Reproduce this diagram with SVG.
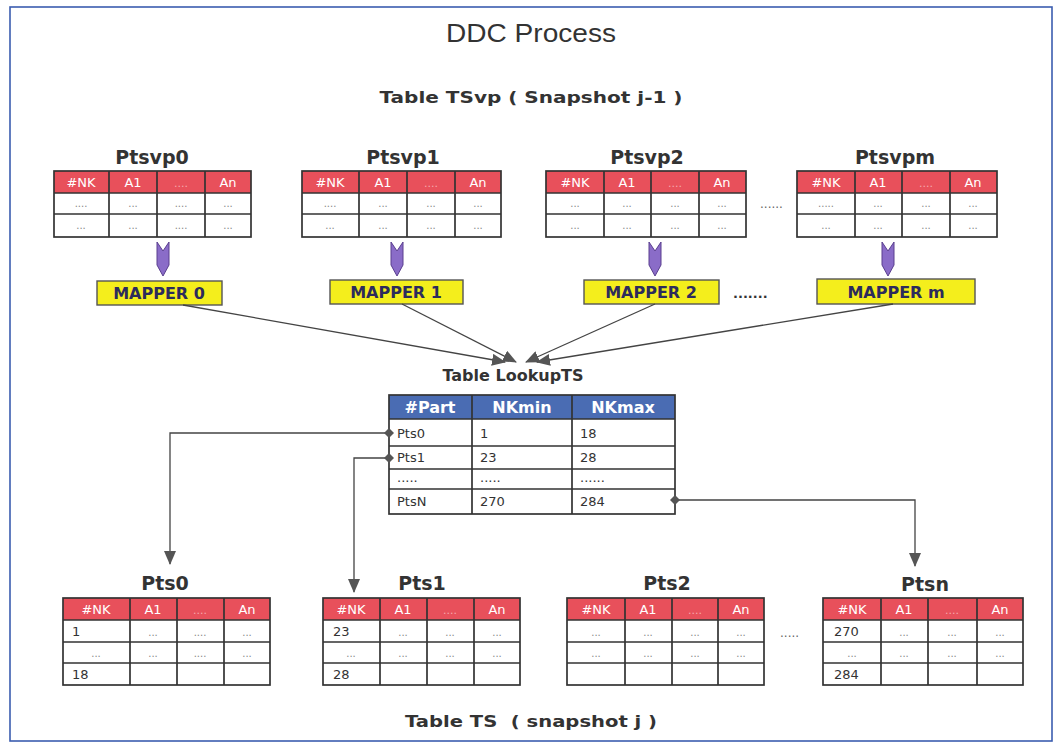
<svg xmlns="http://www.w3.org/2000/svg" xmlns:xlink="http://www.w3.org/1999/xlink" width="1055" height="743" viewBox="0 0 1055 743">
<style>
.frame{fill:#fff;stroke:#3b5db0;stroke-width:1.6}
.hdr{fill:#e8505b}
.lhdr{fill:#4a6cb3}
.grid{fill:none;stroke:#333;stroke-width:1.7}
.ht{font-family:"DejaVu Sans",sans-serif;font-size:13px;fill:#fff;text-anchor:middle}
.hd{font-family:"DejaVu Sans",sans-serif;font-size:11px;fill:#f6a9ae;text-anchor:middle}
.dt{font-family:"DejaVu Sans",sans-serif;font-size:10px;fill:#888;text-anchor:middle}
.num{font-family:"DejaVu Sans",sans-serif;font-size:13px;fill:#333}
.title{font-family:"DejaVu Sans",sans-serif;font-weight:bold;font-size:19px;fill:#333;text-anchor:middle}
.cap{font-family:"DejaVu Sans",sans-serif;font-weight:bold;font-size:16px;fill:#333;text-anchor:middle}
.map{fill:#f4ee1c;stroke:#555;stroke-width:1.4}
.mt{font-family:"DejaVu Sans",sans-serif;font-weight:bold;font-size:16px;fill:#2c2b5c;text-anchor:middle}
.lh{font-family:"DejaVu Sans",sans-serif;font-weight:bold;font-size:16px;fill:#fff;text-anchor:middle}
.conn{fill:none;stroke:#444;stroke-width:1.3}
.pa{fill:#8a6cc8;stroke:#5a3f8f;stroke-width:1}
.dots{font-family:"DejaVu Sans",sans-serif;font-size:12px;fill:#666}
</style>
<defs>
<marker id="arr" markerUnits="userSpaceOnUse" markerWidth="14" markerHeight="12" viewBox="0 0 14 12" refX="13" refY="6" orient="auto">
<path d="M0,0 L14,6 L0,12 Z" fill="#555"/>
</marker>
<marker id="dia" markerUnits="userSpaceOnUse" markerWidth="10" markerHeight="10" viewBox="0 0 10 10" refX="5" refY="5" orient="auto">
<path d="M0,5 L5,0 L10,5 L5,10 Z" fill="#555"/>
</marker>
<path id="parrow" class="pa" d="M-6,0 L0,9 L6,0 L6,23 L0,34 L-6,23 Z"/>
</defs>

<rect class="frame" x="10" y="7" width="1042" height="734"/>
<text x="531" y="42" font-family="Liberation Sans, sans-serif" font-size="26" fill="#333" text-anchor="middle" textLength="170" lengthAdjust="spacingAndGlyphs">DDC Process</text>
<text x="531" y="103" class="cap" textLength="303" lengthAdjust="spacingAndGlyphs">Table TSvp ( Snapshot j-1 )</text>

<!-- Top tables -->
<g id="Ptsvp0">
<text class="title" x="152" y="164">Ptsvp0</text>
<rect class="hdr" x="54" y="171" width="197" height="22"/>
<rect class="grid" x="54" y="171" width="197" height="66"/>
<path class="grid" d="M54,193H251M54,214H251M109,171V237M157,171V237M205,171V237"/>
<text class="ht" x="81" y="187">#NK</text><text class="ht" x="133" y="187">A1</text><text class="hd" x="181" y="187">....</text><text class="ht" x="228" y="187">An</text>
<text class="dt" x="81" y="207">....</text><text class="dt" x="133" y="207">...</text><text class="dt" x="181" y="207">....</text><text class="dt" x="228" y="207">...</text>
<text class="dt" x="81" y="229">...</text><text class="dt" x="133" y="229">...</text><text class="dt" x="181" y="229">....</text><text class="dt" x="228" y="229">...</text>
</g>
<g id="Ptsvp1">
<text class="title" x="403" y="164">Ptsvp1</text>
<rect class="hdr" x="302" y="171" width="199" height="22"/>
<rect class="grid" x="302" y="171" width="199" height="66"/>
<path class="grid" d="M302,193H501M302,214H501M359,171V237M407,171V237M455,171V237"/>
<text class="ht" x="330" y="187">#NK</text><text class="ht" x="383" y="187">A1</text><text class="hd" x="431" y="187">....</text><text class="ht" x="478" y="187">An</text>
<text class="dt" x="330" y="207">....</text><text class="dt" x="383" y="207">...</text><text class="dt" x="431" y="207">...</text><text class="dt" x="478" y="207">...</text>
<text class="dt" x="330" y="229">...</text><text class="dt" x="383" y="229">...</text><text class="dt" x="431" y="229">...</text><text class="dt" x="478" y="229">...</text>
</g>
<g id="Ptsvp2">
<text class="title" x="647" y="164">Ptsvp2</text>
<rect class="hdr" x="546" y="171" width="200" height="22"/>
<rect class="grid" x="546" y="171" width="200" height="66"/>
<path class="grid" d="M546,193H746M546,214H746M604,171V237M651,171V237M699,171V237"/>
<text class="ht" x="575" y="187">#NK</text><text class="ht" x="627" y="187">A1</text><text class="hd" x="675" y="187">....</text><text class="ht" x="722" y="187">An</text>
<text class="dt" x="575" y="207">...</text><text class="dt" x="627" y="207">...</text><text class="dt" x="675" y="207">...</text><text class="dt" x="722" y="207">...</text>
<text class="dt" x="575" y="229">...</text><text class="dt" x="627" y="229">...</text><text class="dt" x="675" y="229">...</text><text class="dt" x="722" y="229">...</text>
</g>
<text class="dots" x="760" y="208">......</text>
<g id="Ptsvpm">
<text class="title" x="895" y="164">Ptsvpm</text>
<rect class="hdr" x="797" y="171" width="200" height="22"/>
<rect class="grid" x="797" y="171" width="200" height="66"/>
<path class="grid" d="M797,193H997M797,214H997M855,171V237M902,171V237M950,171V237"/>
<text class="ht" x="826" y="187">#NK</text><text class="ht" x="878" y="187">A1</text><text class="hd" x="926" y="187">....</text><text class="ht" x="973" y="187">An</text>
<text class="dt" x="826" y="207">.....</text><text class="dt" x="878" y="207">...</text><text class="dt" x="926" y="207">...</text><text class="dt" x="973" y="207">...</text>
<text class="dt" x="826" y="229">...</text><text class="dt" x="878" y="229">...</text><text class="dt" x="926" y="229">...</text><text class="dt" x="973" y="229">...</text>
</g>

<!-- Purple arrows -->
<g id="down-arrows">
<use xlink:href="#parrow" x="163" y="242"/>
<use xlink:href="#parrow" x="397" y="242"/>
<use xlink:href="#parrow" x="655" y="242"/>
<use xlink:href="#parrow" x="888" y="242"/>
</g>

<!-- Mappers -->
<g id="mapper0"><rect class="map" x="97" y="281" width="125" height="24"/><text class="mt" x="159" y="299">MAPPER 0</text></g>
<g id="mapper1"><rect class="map" x="330" y="280" width="133" height="24"/><text class="mt" x="396" y="298">MAPPER 1</text></g>
<g id="mapper2"><rect class="map" x="584" y="280" width="135" height="24"/><text class="mt" x="651" y="298">MAPPER 2</text></g>
<text x="733" y="298" font-family="DejaVu Sans, sans-serif" font-weight="bold" font-size="13" fill="#333">.......</text>
<g id="mapperm"><rect class="map" x="817" y="279" width="158" height="25"/><text class="mt" x="896" y="298">MAPPER m</text></g>

<!-- Lookup table -->
<g id="lookupTS">
<text class="cap" x="513" y="381">Table LookupTS</text>
<rect class="lhdr" x="389" y="395" width="286" height="24"/>
<rect class="grid" x="389" y="395" width="286" height="119"/>
<path class="grid" d="M389,419H675M389,446H675M389,469H675M389,489H675M472,395V514M572,395V514"/>
<text class="lh" x="430" y="413">#Part</text><text class="lh" x="522" y="413">NKmin</text><text class="lh" x="623" y="413">NKmax</text>
<text class="num" x="397" y="438">Pts0</text><text class="num" x="480" y="438">1</text><text class="num" x="580" y="438">18</text>
<text class="num" x="397" y="462">Pts1</text><text class="num" x="480" y="462">23</text><text class="num" x="580" y="462">28</text>
<text class="num" x="397" y="482" fill="#888">.....</text><text class="num" x="480" y="482" fill="#888">.....</text><text class="num" x="580" y="482" fill="#888">......</text>
<text class="num" x="397" y="506">PtsN</text><text class="num" x="480" y="506">270</text><text class="num" x="580" y="506">284</text>
</g>

<!-- Bottom tables -->
<g id="Pts0">
<text class="title" x="165" y="590">Pts0</text>
<rect class="hdr" x="63" y="598" width="207" height="22"/>
<rect class="grid" x="63" y="598" width="207" height="87"/>
<path class="grid" d="M63,620H270M63,642H270M63,663H270M130,598V685M177,598V685M224,598V685"/>
<text class="ht" x="96" y="614">#NK</text><text class="ht" x="153" y="614">A1</text><text class="hd" x="200" y="614">....</text><text class="ht" x="247" y="614">An</text>
<text class="num" x="72" y="636">1</text><text class="dt" x="153" y="636">...</text><text class="dt" x="200" y="636">....</text><text class="dt" x="247" y="636">...</text>
<text class="dt" x="96" y="657">...</text><text class="dt" x="153" y="657">...</text><text class="dt" x="200" y="657">....</text><text class="dt" x="247" y="657">...</text>
<text class="num" x="72" y="679">18</text>
</g>
<g id="Pts1">
<text class="title" x="422" y="590">Pts1</text>
<rect class="hdr" x="323" y="598" width="197" height="22"/>
<rect class="grid" x="323" y="598" width="197" height="87"/>
<path class="grid" d="M323,620H520M323,642H520M323,663H520M380,598V685M427,598V685M474,598V685"/>
<text class="ht" x="351" y="614">#NK</text><text class="ht" x="403" y="614">A1</text><text class="hd" x="450" y="614">....</text><text class="ht" x="497" y="614">An</text>
<text class="num" x="333" y="636">23</text><text class="dt" x="403" y="636">...</text><text class="dt" x="450" y="636">...</text><text class="dt" x="497" y="636">...</text>
<text class="dt" x="351" y="657">...</text><text class="dt" x="403" y="657">...</text><text class="dt" x="450" y="657">...</text><text class="dt" x="497" y="657">...</text>
<text class="num" x="333" y="679">28</text>
</g>
<g id="Pts2">
<text class="title" x="667" y="590">Pts2</text>
<rect class="hdr" x="567" y="598" width="197" height="22"/>
<rect class="grid" x="567" y="598" width="197" height="87"/>
<path class="grid" d="M567,620H764M567,642H764M567,663H764M625,598V685M672,598V685M718,598V685"/>
<text class="ht" x="596" y="614">#NK</text><text class="ht" x="648" y="614">A1</text><text class="hd" x="695" y="614">....</text><text class="ht" x="741" y="614">An</text>
<text class="dt" x="596" y="636">...</text><text class="dt" x="648" y="636">...</text><text class="dt" x="695" y="636">...</text><text class="dt" x="741" y="636">...</text>
<text class="dt" x="596" y="657">...</text><text class="dt" x="648" y="657">...</text><text class="dt" x="695" y="657">...</text><text class="dt" x="741" y="657">...</text>
</g>
<text class="dots" x="780" y="637" fill="#888">.....</text>
<g id="Ptsn">
<text class="title" x="925" y="591">Ptsn</text>
<rect class="hdr" x="823" y="598" width="200" height="22"/>
<rect class="grid" x="823" y="598" width="200" height="87"/>
<path class="grid" d="M823,620H1023M823,642H1023M823,663H1023M881,598V685M928,598V685M977,598V685"/>
<text class="ht" x="852" y="614">#NK</text><text class="ht" x="904" y="614">A1</text><text class="hd" x="952" y="614">....</text><text class="ht" x="1000" y="614">An</text>
<text class="num" x="834" y="636">270</text><text class="dt" x="904" y="636">...</text><text class="dt" x="952" y="636">...</text><text class="dt" x="1000" y="636">...</text>
<text class="dt" x="852" y="657">...</text><text class="dt" x="904" y="657">...</text><text class="dt" x="952" y="657">...</text><text class="dt" x="1000" y="657">...</text>
<text class="num" x="834" y="679">284</text>
</g>

<text x="531" y="727" class="cap" xml:space="preserve" textLength="252" lengthAdjust="spacingAndGlyphs">Table TS  ( snapshot j )</text>

<!-- Connectors -->
<g id="connectors">
<path class="conn" d="M183,305 L505,362" marker-end="url(#arr)"/>
<path class="conn" d="M402,304 L516,362" marker-end="url(#arr)"/>
<path class="conn" d="M655,304 L526,362" marker-end="url(#arr)"/>
<path class="conn" d="M893,304 L537,362" marker-end="url(#arr)"/>
<path class="conn" d="M389,433 H170 V564" marker-start="url(#dia)" marker-end="url(#arr)"/>
<path class="conn" d="M389,458 H354 V592" marker-start="url(#dia)" marker-end="url(#arr)"/>
<path class="conn" d="M675,500 H915 V566" marker-start="url(#dia)" marker-end="url(#arr)"/>
</g>
</svg>
